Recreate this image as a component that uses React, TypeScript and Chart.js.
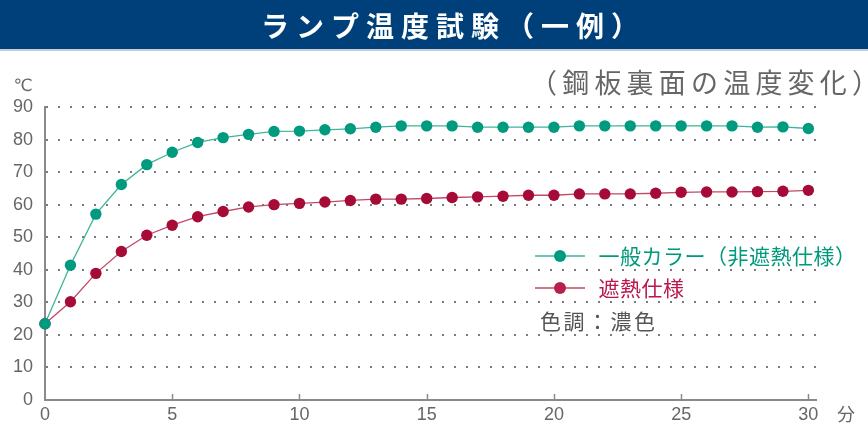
import React, { useEffect, useRef } from 'react';
import { Chart, registerables } from 'chart.js';

Chart.register(...registerables);

// ---- data ----
const minutes = [0, 1, 2, 3, 4, 5, 6, 7, 8, 9, 10, 11, 12, 13, 14, 15, 16, 17, 18, 19, 20, 21, 22, 23, 24, 25, 26, 27, 28, 29, 30];
const generalColorTemps = [23.4, 41.4, 57.1, 66.2, 72.3, 76.1, 79.1, 80.6, 81.6, 82.5, 82.6, 83.0, 83.3, 83.8, 84.2, 84.2, 84.2, 83.8, 83.8, 83.8, 83.8, 84.2, 84.2, 84.2, 84.2, 84.2, 84.2, 84.2, 83.8, 83.9, 83.4];
const heatShieldTemps = [23.4, 30.2, 38.9, 45.6, 50.6, 53.7, 56.3, 57.9, 59.3, 60.0, 60.4, 60.8, 61.3, 61.7, 61.7, 61.9, 62.2, 62.4, 62.6, 62.9, 62.9, 63.3, 63.3, 63.3, 63.5, 63.8, 63.9, 63.9, 64.0, 64.1, 64.4];
const xTickValues = [0, 5, 10, 15, 20, 25, 30];
const yTickValues = [0, 10, 20, 30, 40, 50, 60, 70, 80, 90];
const seriesLabels = ['一般カラー（非遮熱仕様）', '遮熱仕様'];
const titleText = 'ランプ温度試験（一例）';
const subtitleText = '（鋼板裏面の温度変化）';
const noteText = '色調：濃色';
const yUnit = '℃';
const xUnit = '分';

const JP = '"Noto Sans CJK JP", "Noto Sans", sans-serif';
const NUM = '"Liberation Sans", "DejaVu Sans", sans-serif';

const GREEN_POINT = '#009b7f';
const GREEN_LINE = '#3db59b';
const GREEN_TEXT = '#00997b';
const RED_POINT = '#a50b36';
const RED_LINE = '#c2486a';
const RED_TEXT = '#b8184d';
const LEGEND_RED_POINT = '#b8204b';
const GRAY_TEXT = '#666666';
const AXIS_GRAY = '#8a8a8a';

function drawSpaced(ctx: CanvasRenderingContext2D, text: string, x: number, y: number, ls: number) {
  let cx = x;
  for (const ch of Array.from(text)) {
    ctx.fillText(ch, cx, y);
    cx += ctx.measureText(ch).width + ls;
  }
}

const decorPlugin = {
  id: 'decor',
  beforeDraw(chart: any) {
    const ctx: CanvasRenderingContext2D = chart.ctx;
    ctx.save();
    ctx.fillStyle = '#ffffff';
    ctx.fillRect(0, 0, chart.width, chart.height);
    ctx.fillStyle = '#00407a';
    ctx.fillRect(0, 0, chart.width, 49);
    ctx.fillStyle = '#c3cdd9';
    ctx.fillRect(0, 49, chart.width, 2);
    ctx.restore();
  },
  afterDraw(chart: any) {
    const ctx: CanvasRenderingContext2D = chart.ctx;
    const xScale = chart.scales.x;
    const area = chart.chartArea;
    ctx.save();
    // inner tick marks on x axis
    ctx.strokeStyle = AXIS_GRAY;
    ctx.lineWidth = 1.5;
    xScale.ticks.forEach((t: any) => {
      if (t.value === 0) return;
      const px = Math.round(xScale.getPixelForValue(t.value)) + 0.5;
      ctx.beginPath();
      ctx.moveTo(px, area.bottom - 6);
      ctx.lineTo(px, area.bottom);
      ctx.stroke();
    });

    ctx.textBaseline = 'middle';
    ctx.textAlign = 'left';
    // title
    ctx.fillStyle = '#ffffff';
    ctx.font = `bold 28px ${JP}`;
    drawSpaced(ctx, titleText, 261, 26, 7);
    // subtitle
    ctx.fillStyle = GRAY_TEXT;
    ctx.font = `27px ${JP}`;
    drawSpaced(ctx, subtitleText, 530, 83, 5.2);
    // units
    ctx.font = `17px ${NUM}`;
    ctx.textAlign = 'center';
    ctx.fillText(yUnit, 23, 86);
    ctx.font = `18px ${JP}`;
    ctx.fillText(xUnit, 846, 414);
    ctx.textAlign = 'left';

    // legend
    const rows = [256, 288];
    const textColors = [GREEN_TEXT, RED_TEXT];
    const dotColors = [GREEN_POINT, LEGEND_RED_POINT];
    chart.data.datasets.forEach((ds: any, i: number) => {
      const y = rows[i];
      ctx.strokeStyle = ds.borderColor;
      ctx.lineWidth = 1.5;
      ctx.beginPath();
      ctx.moveTo(535, y);
      ctx.lineTo(585, y);
      ctx.stroke();
      ctx.fillStyle = dotColors[i];
      ctx.beginPath();
      ctx.arc(560, y, 6, 0, Math.PI * 2);
      ctx.fill();
      ctx.fillStyle = textColors[i];
      ctx.font = `21px ${JP}`;
      drawSpaced(ctx, ds.label, 598.5, y, 0.5);
    });
    ctx.fillStyle = '#555555';
    ctx.font = `21px ${JP}`;
    drawSpaced(ctx, noteText, 540, 321, 2.5);
    ctx.restore();
  },
};

export default function App() {
  const canvasRef = useRef<HTMLCanvasElement | null>(null);

  useEffect(() => {
    if (!canvasRef.current) return;
    const chart = new Chart(canvasRef.current, {
      type: 'line',
      data: {
        datasets: [
          {
            label: seriesLabels[0],
            data: minutes.map((m, i) => ({ x: m, y: generalColorTemps[i] })),
            borderColor: GREEN_LINE,
            backgroundColor: GREEN_POINT,
            pointBackgroundColor: GREEN_POINT,
            pointBorderColor: GREEN_POINT,
            pointRadius: 5.7,
            pointBorderWidth: 0,
            borderWidth: 1.3,
            tension: 0,
            clip: false as any,
          },
          {
            label: seriesLabels[1],
            data: minutes.map((m, i) => ({ x: m, y: heatShieldTemps[i] })),
            borderColor: RED_LINE,
            backgroundColor: RED_POINT,
            pointBackgroundColor: RED_POINT,
            pointBorderColor: RED_POINT,
            pointRadius: 5.7,
            pointBorderWidth: 0,
            borderWidth: 1.3,
            tension: 0,
            clip: false as any,
          },
        ],
      },
      options: {
        responsive: false,
        animation: false,
        events: [],
        layout: { padding: { top: 107, right: 52, left: 0, bottom: 0 } },
        plugins: {
          legend: { display: false },
          tooltip: { enabled: false },
          title: { display: false },
        },
        scales: {
          x: {
            type: 'linear',
            min: 0,
            max: 30.3,
            afterBuildTicks: (scale: any) => {
              scale.ticks = xTickValues.map((v) => ({ value: v }));
            },
            afterFit: (scale: any) => {
              scale.height = 25;
            },
            ticks: {
              color: GRAY_TEXT,
              font: { size: 18, family: NUM },
              padding: 4,
              maxRotation: 0,
              autoSkip: false,
            },
            grid: { display: true, drawOnChartArea: false, drawTicks: false },
            border: { display: true, color: AXIS_GRAY, width: 2 },
          },
          y: {
            type: 'linear',
            min: 0,
            max: 90,
            afterBuildTicks: (scale: any) => {
              scale.ticks = yTickValues.map((v) => ({ value: v }));
            },
            afterFit: (scale: any) => {
              scale.width = 45;
            },
            ticks: {
              color: GRAY_TEXT,
              font: { size: 18, family: NUM },
              padding: 12,
              autoSkip: false,
            },
            grid: {
              drawTicks: false,
              lineWidth: 2,
              color: (ctx: any) => (ctx.tick && ctx.tick.value === 0 ? 'rgba(0,0,0,0)' : '#7a7a7a'),
            },
            border: { display: true, color: AXIS_GRAY, width: 2, dash: [2, 10] },
          },
        },
      },
      plugins: [decorPlugin],
    } as any);
    return () => chart.destroy();
  }, []);

  return (
    <div style={{ position: 'absolute', left: 0, top: 0, width: 868, height: 425 }}>
      <canvas ref={canvasRef} width={868} height={425} style={{ display: 'block', width: 868, height: 425 }} />
    </div>
  );
}
